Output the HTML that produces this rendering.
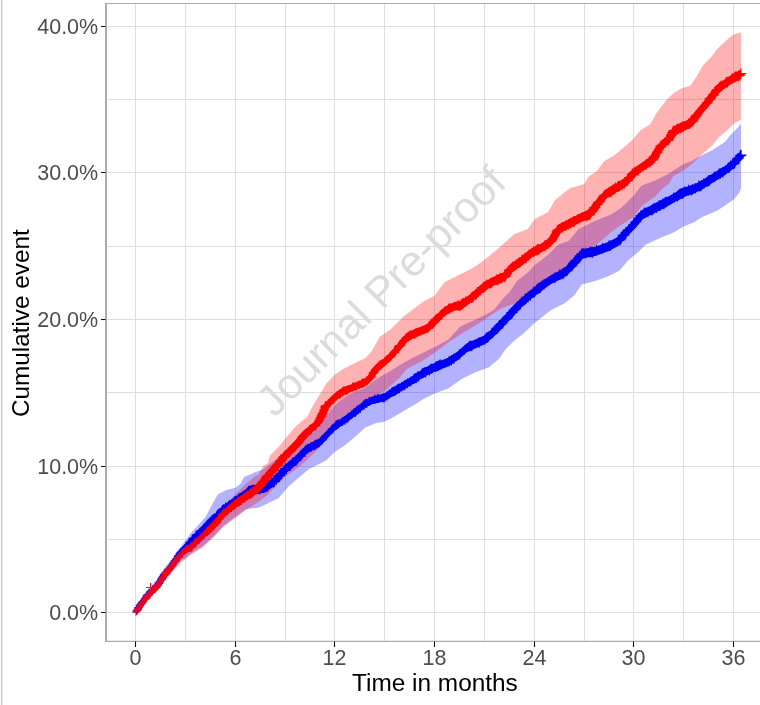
<!DOCTYPE html>
<html lang="en"><head><meta charset="utf-8"><title>Cumulative event</title>
<style>html,body{margin:0;padding:0;background:#fff}body{width:760px;height:705px;overflow:hidden}</style></head>
<body>
<svg width="760" height="705" viewBox="0 0 760 705" style="display:block;font-family:'Liberation Sans',sans-serif">
<rect width="760" height="705" fill="#fff"/>
<rect x="1" y="0" width="1.3" height="705" fill="#c4c4c4"/>
<path d="M135.5,4V641M185.5,4V641M235.5,4V641M285.5,4V641M334.5,4V641M384.5,4V641M434.5,4V641M484.5,4V641M534.5,4V641M584.5,4V641M633.5,4V641M683.5,4V641M733.5,4V641M107,612.5H760M107,539.5H760M107,466.5H760M107,392.5H760M107,319.5H760M107,246.5H760M107,172.5H760M107,99.5H760M107,26.5H760" stroke="#dedede" stroke-width="1" fill="none"/>
<text transform="translate(274.5,418.5) rotate(-45)" font-size="42.8" fill="#dcdcdc" x="0" y="0">Journal Pre-proof</text>
<polygon points="135.5,612.0 141.0,600.0 146.5,591.0 152.0,585.0 158.0,578.0 163.5,569.0 169.9,561.5 175.6,553.5 181.3,546.0 185.7,540.0 191.4,532.6 197.0,526.4 202.7,520.0 205.6,516.7 208.4,511.5 212.0,504.7 217.7,494.5 226.2,490.0 235.5,487.7 240.4,483.7 244.0,477.0 249.7,474.7 255.4,471.9 262.0,470.0 275.0,460.0 285.0,452.0 300.0,440.0 312.0,431.0 324.5,418.0 334.5,405.6 342.7,398.8 351.8,393.1 365.4,387.4 374.5,380.6 379.0,377.5 384.2,374.5 392.7,369.5 399.5,365.2 407.4,360.6 421.0,353.8 434.7,347.0 448.3,339.6 460.0,326.7 484.2,315.4 494.0,309.7 503.1,298.4 509.9,291.6 516.7,281.3 528.1,272.3 534.8,264.9 548.1,254.7 558.3,244.5 568.5,241.1 578.7,229.1 594.0,221.3 611.1,214.5 621.3,207.7 633.5,195.7 641.7,185.5 655.3,180.4 668.9,173.6 683.5,164.0 692.1,160.8 699.9,156.2 712.4,149.9 724.9,142.1 729.6,135.9 737.4,128.1 741.0,123.4 741.1,188.3 739.4,192.6 733.8,199.6 725.2,205.3 716.7,211.0 702.6,216.7 694.0,222.3 683.4,226.6 674.2,232.3 660.0,237.9 645.1,245.1 638.3,251.9 628.1,260.4 619.6,270.6 608.9,276.0 595.3,281.1 581.7,284.5 574.9,294.7 564.7,303.2 551.1,310.0 534.3,323.3 523.5,333.5 514.5,340.4 505.4,349.4 499.1,358.7 488.9,367.2 475.3,372.3 461.7,379.1 448.1,388.5 434.5,393.5 424.3,398.5 414.0,405.0 399.4,413.5 393.8,417.0 384.7,421.5 375.5,423.2 365.3,427.5 355.1,436.8 344.9,445.3 334.7,452.0 326.0,460.6 309.0,469.0 299.0,477.4 289.0,486.0 278.7,497.9 265.0,504.7 258.5,507.7 246.1,509.0 235.5,516.8 223.4,525.8 214.1,535.8 202.7,546.3 191.4,553.3 185.5,558.0 181.3,560.5 175.6,567.0 169.9,574.0 164.2,580.5 158.6,588.0 152.9,594.0 147.2,599.5 141.5,606.5 135.5,612.5" fill="#0000ff" fill-opacity="0.3"/>
<polygon points="135.5,612.0 141.5,601.0 147.2,592.0 152.9,586.0 158.6,579.5 164.2,570.5 169.9,563.5 175.6,555.5 181.3,548.0 191.4,540.0 202.7,529.0 214.1,518.0 223.4,506.5 235.5,494.0 246.1,483.7 255.4,476.0 258.5,474.8 263.1,465.7 267.6,463.4 270.0,455.5 280.2,445.3 285.3,438.5 295.5,426.6 307.4,416.4 312.5,406.2 320.0,394.0 326.8,382.9 334.5,375.0 342.7,369.3 354.0,363.6 365.4,357.9 371.0,352.3 380.0,336.6 390.2,329.8 403.8,316.2 417.4,306.0 424.3,300.9 434.5,295.7 444.7,282.1 458.3,275.3 471.9,268.5 482.1,261.7 497.0,249.6 514.0,234.3 527.7,229.1 534.8,218.9 548.1,212.1 554.9,200.2 565.1,191.7 570.0,188.2 584.2,183.9 588.4,176.8 597.0,171.1 604.0,161.2 614.0,155.5 622.5,148.4 631.0,141.3 640.9,130.0 650.0,124.5 656.2,113.6 665.6,101.1 673.4,93.3 681.2,88.6 690.6,85.5 696.8,76.2 703.0,65.2 710.8,57.4 717.1,48.9 724.9,41.8 732.7,34.8 741.0,32.5 741.0,119.5 734.2,123.4 728.0,129.6 718.6,137.4 712.4,145.2 699.9,156.2 692.1,164.0 683.5,170.2 673.4,176.0 668.9,183.8 662.1,188.9 655.3,196.6 641.7,206.0 633.5,217.0 621.3,224.7 611.1,232.0 595.3,246.0 581.7,250.0 574.9,259.0 564.7,269.0 551.1,276.0 534.6,288.0 528.1,293.0 516.7,303.0 509.9,305.2 503.1,307.4 494.0,313.1 484.2,319.9 460.0,334.7 448.3,342.5 434.7,352.7 421.0,361.8 407.4,368.6 399.5,377.7 392.7,384.0 384.2,391.0 372.0,400.0 365.3,405.0 355.0,413.0 345.0,421.0 334.7,428.0 320.0,447.0 309.0,458.0 299.0,467.0 292.0,472.0 282.0,479.0 267.6,495.0 258.5,502.0 246.1,509.8 235.5,518.0 223.4,527.0 214.1,537.0 202.7,547.5 191.4,554.5 185.5,559.5 181.3,562.0 175.6,568.0 169.9,575.0 164.2,581.5 158.6,589.0 152.9,595.0 147.2,600.0 141.5,607.0 135.5,612.5" fill="#ff0000" fill-opacity="0.3"/>
<polygon points="135.8,609.1 141.2,600.2 146.9,592.4 152.6,586.9 158.3,580.6 163.9,571.6 169.5,564.7 175.1,556.9 180.7,549.3 185.0,544.7 191.4,537.0 202.7,525.3 214.1,514.6 223.4,505.3 235.5,496.6 246.1,489.0 252.0,485.1 260.0,484.2 265.4,483.2 274.4,476.4 285.3,464.6 295.5,456.2 307.4,444.5 319.4,438.6 327.9,429.5 334.7,422.7 344.9,416.0 355.1,408.5 365.3,399.9 372.1,396.4 384.7,393.2 393.8,387.5 399.4,384.0 414.0,375.0 424.3,368.1 434.5,362.9 448.1,357.8 458.3,351.0 466.8,343.3 484.2,335.4 494.0,327.4 503.1,317.2 509.9,310.3 516.7,302.4 528.1,292.2 534.6,286.8 539.4,283.1 551.1,274.9 564.7,268.1 574.9,257.8 581.7,249.3 595.3,246.7 608.9,241.7 619.1,236.2 623.0,231.2 633.5,220.5 641.7,210.2 655.3,203.2 668.9,196.3 683.4,187.7 694.0,184.4 702.6,179.9 716.7,171.1 725.2,165.9 733.8,158.9 741.1,150.4 741.1,159.6 733.8,168.1 725.2,175.1 716.7,180.3 702.6,189.1 694.0,193.6 683.4,196.9 668.9,205.5 655.3,212.4 641.7,219.4 633.5,229.7 623.0,240.4 619.1,245.4 608.9,250.9 595.3,255.9 581.7,258.5 574.9,267.0 564.7,277.3 551.1,284.1 539.4,292.3 534.6,296.0 528.1,301.4 516.7,311.6 509.9,319.5 503.1,326.2 494.0,336.4 484.2,344.4 466.8,352.3 458.3,359.8 448.1,366.6 434.5,371.7 424.3,376.7 414.0,383.4 399.4,392.2 393.8,395.5 384.7,401.2 372.1,404.2 365.3,407.5 355.1,415.9 344.9,423.6 334.7,430.7 327.9,437.5 319.4,447.0 307.4,453.1 295.5,465.2 285.3,473.8 274.4,485.8 265.4,492.6 260.0,493.4 252.0,493.9 246.1,497.6 235.5,504.8 223.4,513.1 214.1,522.2 202.7,532.5 191.4,544.2 185.0,551.9 180.7,556.3 175.1,563.9 169.5,571.7 163.9,578.6 158.3,587.6 152.6,593.9 146.9,599.2 141.2,607.0 135.8,615.9" fill="#0000f5"/><polygon points="132.4,612.5 137.8,603.6 143.5,595.8 149.1,590.4 154.8,584.1 160.4,575.1 166.0,568.2 171.6,560.4 177.2,552.8 181.4,548.3 187.8,540.6 199.1,528.9 210.3,518.4 219.5,509.2 231.4,500.7 241.8,493.3 247.6,489.5 255.4,488.8 260.7,487.9 269.7,481.1 280.7,469.2 291.0,460.7 303.1,448.8 315.2,442.8 323.9,433.5 330.7,426.7 341.1,419.8 351.4,412.2 361.5,403.7 368.2,400.3 380.7,397.2 389.8,391.5 395.3,388.1 409.8,379.2 420.0,372.4 430.1,367.3 443.7,362.2 453.9,355.4 462.3,347.8 479.7,339.9 489.5,331.9 498.6,321.7 505.3,314.9 512.1,307.0 523.5,296.8 530.0,291.4 534.8,287.7 546.5,279.5 560.1,272.7 570.3,262.4 577.1,253.9 590.7,251.3 604.3,246.3 614.5,240.8 618.4,235.8 628.9,225.1 637.1,214.8 650.7,207.8 664.3,200.9 678.8,192.3 689.4,189.0 698.0,184.5 712.1,175.7 720.6,170.5 729.2,163.5 736.5,155.0 745.7,155.0 738.4,163.5 729.8,170.5 721.3,175.7 707.2,184.5 698.6,189.0 688.0,192.3 673.5,200.9 659.9,207.8 646.3,214.8 638.1,225.1 627.6,235.8 623.7,240.8 613.5,246.3 599.9,251.3 586.3,253.9 579.5,262.4 569.3,272.7 555.7,279.5 544.0,287.7 539.2,291.4 532.7,296.8 521.3,307.0 514.5,314.9 507.6,321.7 498.5,331.9 488.7,339.9 471.3,347.8 462.7,355.4 452.5,362.2 438.9,367.3 428.6,372.4 418.2,379.2 403.5,388.1 397.8,391.5 388.7,397.2 376.0,400.3 369.1,403.7 358.8,412.2 348.7,419.8 338.7,426.7 331.9,433.5 323.6,442.8 311.7,448.8 300.0,460.7 289.9,469.2 279.1,481.1 270.1,487.9 264.6,488.8 256.4,489.5 250.4,493.3 239.6,500.7 227.3,509.2 217.9,518.4 206.3,528.9 195.0,540.6 188.6,548.3 184.2,552.8 178.6,560.4 173.0,568.2 167.4,575.1 161.8,584.1 156.1,590.4 150.3,595.8 144.6,603.6 139.2,612.5" fill="#0000f5"/>
<path d="M132.4,611.0h8.2M136.5,606.9v8.2M133.7,609.2h8.2M137.8,605.1v8.2M134.4,607.5h8.2M138.5,603.4v8.2M135.7,605.7h8.2M139.8,601.6v8.2M136.4,604.2h8.2M140.5,600.1v8.2M137.1,604.0h8.2M141.2,599.9v8.2M137.9,602.2h8.2M142.0,598.0v8.2M141.1,598.6h8.3M145.3,594.5v8.3M142.0,597.3h8.3M146.1,593.2v8.3M142.8,595.4h8.3M146.9,591.2v8.3M143.7,594.7h8.3M147.8,590.5v8.3M145.6,593.2h8.3M149.8,589.1v8.3M147.5,591.4h8.3M151.7,587.2v8.3M148.4,589.9h8.3M152.6,585.7v8.3M149.4,589.6h8.3M153.6,585.4v8.3M150.3,588.1h8.3M154.5,583.9v8.3M153.2,585.5h8.3M157.4,581.3v8.3M154.8,583.1h8.3M159.0,578.9v8.3M157.6,579.1h8.4M161.8,574.9v8.4M158.3,577.3h8.4M162.5,573.1v8.4M159.7,575.1h8.4M163.9,570.9v8.4M160.6,574.2h8.4M164.8,570.0v8.4M164.4,569.6h8.4M168.6,565.4v8.4M170.9,560.6h8.4M175.1,556.4v8.4M174.1,555.9h8.5M178.3,551.7v8.5M175.7,553.8h8.5M179.9,549.6v8.5M176.5,552.3h8.5M180.7,548.1v8.5M177.5,552.0h8.5M181.8,547.8v8.5M178.6,550.2h8.5M182.8,546.0v8.5M179.7,549.9h8.5M183.9,545.6v8.5M180.7,548.2h8.5M185.0,544.0v8.5M185.3,542.7h8.5M189.6,538.4v8.5M186.2,542.2h8.5M190.5,537.9v8.5M188.1,539.2h8.6M192.3,535.0v8.6M189.0,538.3h8.6M193.3,534.1v8.6M191.8,535.1h8.6M196.1,530.8v8.6M192.8,534.6h8.6M197.1,530.3v8.6M199.4,528.4h8.7M203.7,524.1v8.7M203.5,524.0h8.8M207.9,519.6v8.8M204.5,523.3h8.9M208.9,518.9v8.9M205.5,521.7h8.9M210.0,517.3v8.9M206.5,520.9h8.9M211.0,516.4v8.9M207.6,519.8h8.9M212.0,515.3v8.9M208.6,518.9h9.0M213.1,514.4v9.0M209.6,518.2h9.0M214.1,513.7v9.0M210.5,517.9h9.0M215.0,513.4v9.0M212.3,515.3h9.1M216.9,510.8v9.1M213.3,514.6h9.1M217.8,510.0v9.1M214.2,514.2h9.1M218.8,509.7v9.1M217.8,509.6h9.2M222.5,505.0v9.2M218.8,508.9h9.3M223.4,504.3v9.3M220.9,507.1h9.3M225.6,502.4v9.3M224.2,505.4h9.4M228.9,500.7v9.4M225.3,504.6h9.5M230.0,499.9v9.5M229.6,501.3h9.6M234.4,496.5v9.6M230.7,501.0h9.6M235.5,496.2v9.6M234.2,497.9h9.8M239.0,493.0v9.8M242.2,492.6h10.1M247.3,487.5v10.1M243.4,491.2h10.1M248.5,486.1v10.1M244.5,490.8h10.2M249.6,485.7v10.2M245.7,490.5h10.2M250.8,485.4v10.2M248.2,489.9h10.3M253.3,484.7v10.3M252.1,488.7h10.5M257.3,483.5v10.5M253.4,488.6h10.5M258.7,483.3v10.5M254.7,488.9h10.6M260.0,483.6v10.6M262.2,486.4h10.9M267.6,480.9v10.9M267.8,482.3h10.9M273.3,476.8v10.9M269.0,481.5h10.9M274.4,476.0v10.9M270.8,479.0h10.8M276.2,473.6v10.8M273.6,475.7h10.8M278.9,470.3v10.8M274.5,475.6h10.7M279.9,470.3v10.7M276.3,473.6h10.7M281.7,468.2v10.7M279.1,470.3h10.6M284.4,464.9v10.6M280.0,468.6h10.6M285.3,463.3v10.6M285.2,465.4h10.5M290.4,460.2v10.5M287.2,463.0h10.4M292.4,457.8v10.4M288.3,462.1h10.4M293.5,456.9v10.4M290.3,460.6h10.3M295.5,455.4v10.3M291.3,460.2h10.3M296.5,455.1v10.3M292.3,458.7h10.3M297.5,453.5v10.3M295.4,456.2h10.2M300.5,451.1v10.2M299.4,451.7h10.1M304.4,446.7v10.1M300.4,450.2h10.1M305.4,445.2v10.1M302.4,448.8h10.0M307.4,443.8v10.0M306.0,447.0h9.9M311.0,442.1v9.9M309.7,445.3h9.8M314.6,440.4v9.8M310.9,444.3h9.8M315.8,439.4v9.8M317.4,439.8h9.6M322.2,435.0v9.6M328.1,428.7h9.4M332.8,424.0v9.4M331.2,425.5h9.3M335.8,420.8v9.3M332.3,424.7h9.3M337.0,420.0v9.3M333.5,423.9h9.2M338.1,419.3v9.2M338.1,421.6h9.1M342.6,417.0v9.1M340.4,420.3h9.1M344.9,415.7v9.1M342.7,418.7h9.0M347.2,414.2v9.0M343.8,417.3h9.0M348.3,412.8v9.0M347.3,414.7h8.9M351.7,410.2v8.9M349.6,412.7h8.8M354.0,408.3v8.8M350.7,412.5h8.8M355.1,408.1v8.8M351.7,411.4h8.8M356.1,407.0v8.8M352.7,409.9h8.8M357.1,405.5v8.8M353.7,409.8h8.9M358.2,405.4v8.9M355.8,408.5h8.9M360.2,404.1v8.9M358.8,405.1h8.9M363.3,400.6v8.9M359.8,404.9h9.0M364.3,400.4v9.0M360.8,403.3h9.0M365.3,398.8v9.0M362.2,403.5h9.0M366.7,399.0v9.0M364.9,401.2h9.1M369.4,396.7v9.1M370.3,399.1h9.2M374.9,394.5v9.2M373.1,398.4h9.2M377.7,393.8v9.2M378.6,398.0h9.3M383.3,393.3v9.3M380.0,397.6h9.3M384.7,393.0v9.3M382.3,395.8h9.4M387.0,391.2v9.4M384.5,393.9h9.4M389.2,389.2v9.4M386.8,392.5h9.4M391.5,387.7v9.4M387.9,391.7h9.5M392.7,386.9v9.5M389.1,391.3h9.5M393.8,386.5v9.5M390.2,391.1h9.5M394.9,386.4v9.5M391.3,390.1h9.5M396.0,385.4v9.5M392.4,389.3h9.5M397.2,384.5v9.5M393.5,388.5h9.6M398.3,383.7v9.6M394.6,388.4h9.6M399.4,383.6v9.6M396.8,386.7h9.6M401.6,381.9v9.6M399.1,385.7h9.7M403.9,380.9v9.7M400.2,384.7h9.7M405.0,379.8v9.7M402.4,383.3h9.7M407.3,378.5v9.7M405.7,381.7h9.8M410.6,376.8v9.8M409.1,379.0h9.8M414.0,374.1v9.8M410.2,378.0h9.9M415.1,373.1v9.9M411.3,378.0h9.9M416.3,373.0v9.9M412.5,376.5h9.9M417.4,371.6v9.9M413.6,376.6h9.9M418.6,371.6v9.9M417.0,373.6h10.0M422.0,368.6v10.0M418.2,373.1h10.0M423.2,368.1v10.0M419.3,372.3h10.0M424.3,367.3v10.0M420.5,372.3h10.1M425.6,367.3v10.1M424.3,370.4h10.1M429.4,365.3v10.1M425.6,369.0h10.1M430.7,364.0v10.1M426.9,368.4h10.2M431.9,363.4v10.2M430.6,366.8h10.2M435.7,361.7v10.2M431.9,366.1h10.2M437.0,361.0v10.2M433.1,365.8h10.2M438.2,360.7v10.2M434.3,364.9h10.2M439.4,359.8v10.2M435.6,364.7h10.2M440.7,359.5v10.2M444.1,361.2h10.3M449.2,356.1v10.3M446.4,360.2h10.3M451.5,355.1v10.3M448.6,358.8h10.3M453.8,353.7v10.3M454.2,354.5h10.3M459.4,349.3v10.3M464.1,346.1h10.3M469.3,340.9v10.3M465.4,345.9h10.3M470.5,340.8v10.3M466.6,345.9h10.4M471.8,340.8v10.4M474.0,342.5h10.4M479.2,337.3v10.4M480.1,339.3h10.4M485.3,334.1v10.4M481.2,337.6h10.4M486.4,332.4v10.4M482.3,337.5h10.4M487.5,332.3v10.4M483.3,336.6h10.4M488.6,331.4v10.4M486.6,333.7h10.4M491.8,328.4v10.4M491.5,328.4h10.5M496.7,323.2v10.5M492.4,328.1h10.5M497.6,322.9v10.5M493.3,326.9h10.5M498.6,321.7v10.5M494.2,325.3h10.5M499.5,320.0v10.5M495.1,325.0h10.5M500.4,319.7v10.5M497.9,321.7h10.5M503.1,316.5v10.5M500.8,319.3h10.5M506.0,314.0v10.5M501.7,318.4h10.5M507.0,313.1v10.5M503.7,315.8h10.5M508.9,310.6v10.5M506.3,312.6h10.5M511.6,307.4v10.5M507.2,312.5h10.5M512.5,307.2v10.5M508.0,311.0h10.5M513.3,305.8v10.5M508.9,310.0h10.5M514.1,304.7v10.5M510.6,308.4h10.5M515.9,303.1v10.5M514.5,304.7h10.5M519.8,299.4v10.5M516.6,301.8h10.6M521.9,296.5v10.6M519.7,299.2h10.6M525.0,293.9v10.6M520.7,298.4h10.6M526.0,293.1v10.6M522.8,297.1h10.6M528.1,291.8v10.6M525.0,295.5h10.6M530.3,290.2v10.6M528.2,292.1h10.6M533.5,286.8v10.6M529.3,292.0h10.6M534.6,286.7v10.6M531.7,289.5h10.6M537.0,284.2v10.6M532.9,288.1h10.6M538.2,282.8v10.6M534.1,288.1h10.6M539.4,282.8v10.6M535.3,287.4h10.6M540.6,282.1v10.6M536.4,285.8h10.6M541.7,280.5v10.6M538.8,284.3h10.6M544.1,279.0v10.6M549.5,277.9h10.6M554.8,272.6v10.6M554.5,274.6h10.6M559.8,269.3v10.6M556.9,273.9h10.6M562.2,268.6v10.6M558.2,273.1h10.6M563.5,267.8v10.6M561.3,271.0h10.6M566.6,265.7v10.6M562.2,270.0h10.6M567.5,264.7v10.6M563.1,268.6h10.6M568.4,263.3v10.6M564.0,267.7h10.6M569.3,262.4v10.6M566.8,265.7h10.6M572.1,260.4v10.6M568.7,262.9h10.6M574.0,257.6v10.6M569.6,261.9h10.6M574.9,256.6v10.6M570.5,260.8h10.6M575.8,255.5v10.6M571.3,260.0h10.6M576.6,254.7v10.6M574.7,255.9h10.6M580.0,250.6v10.6M576.4,253.7h10.6M581.7,248.4v10.6M577.8,253.4h10.6M583.1,248.1v10.6M580.5,253.1h10.6M585.8,247.8v10.6M584.6,252.1h10.6M589.9,246.8v10.6M585.9,252.0h10.6M591.2,246.7v10.6M587.3,252.4h10.6M592.6,247.1v10.6M591.2,250.3h10.6M596.5,245.0v10.6M597.4,248.4h10.6M602.7,243.1v10.6M603.6,245.8h10.6M608.9,240.5v10.6M604.9,245.6h10.6M610.2,240.3v10.6M614.8,239.9h10.6M620.1,234.6v10.6M615.8,238.8h10.6M621.0,233.5v10.6M617.7,235.4h10.6M623.0,230.1v10.6M618.7,235.0h10.6M624.0,229.7v10.6M620.6,232.4h10.6M625.9,227.1v10.6M623.4,229.6h10.6M628.7,224.3v10.6M625.3,227.8h10.6M630.6,222.5v10.6M630.7,221.7h10.6M636.0,216.4v10.6M633.1,218.3h10.6M638.4,213.0v10.6M635.6,215.5h10.6M640.9,210.2v10.6M638.9,213.0h10.6M644.2,207.7v10.6M640.1,212.8h10.6M645.4,207.5v10.6M642.6,212.0h10.6M647.9,206.7v10.6M646.3,210.3h10.6M651.6,205.0v10.6M647.5,209.5h10.6M652.8,204.2v10.6M648.8,208.1h10.6M654.1,202.8v10.6M651.2,207.7h10.6M656.5,202.4v10.6M653.7,205.6h10.6M659.0,200.3v10.6M654.9,205.5h10.6M660.2,200.2v10.6M657.4,203.9h10.6M662.7,198.6v10.6M658.7,204.0h10.6M664.0,198.7v10.6M659.9,202.2h10.6M665.2,196.9v10.6M661.1,202.0h10.6M666.4,196.7v10.6M668.4,197.7h10.6M673.7,192.4v10.6M672.1,196.1h10.6M677.4,190.8v10.6M673.3,195.0h10.6M678.6,189.7v10.6M674.5,194.1h10.6M679.8,188.8v10.6M675.7,193.5h10.6M681.0,188.2v10.6M676.9,193.6h10.6M682.2,188.3v10.6M678.1,192.9h10.6M683.4,187.6v10.6M679.4,191.7h10.6M684.7,186.4v10.6M683.4,190.1h10.6M688.7,184.8v10.6M686.1,190.3h10.6M691.4,185.0v10.6M687.4,189.2h10.6M692.7,183.9v10.6M689.9,188.3h10.6M695.2,183.0v10.6M693.6,185.9h10.6M698.9,180.6v10.6M694.8,186.3h10.6M700.1,181.0v10.6M696.1,185.4h10.6M701.4,180.1v10.6M698.5,183.5h10.6M703.8,178.2v10.6M702.0,181.8h10.6M707.3,176.5v10.6M703.2,180.6h10.6M708.5,175.3v10.6M704.4,180.4h10.6M709.7,175.1v10.6M709.1,176.8h10.6M714.4,171.5v10.6M713.8,173.9h10.6M719.1,168.6v10.6M715.0,173.5h10.6M720.3,168.2v10.6M717.5,172.3h10.6M722.8,167.0v10.6M723.1,167.7h10.6M728.4,162.4v10.6M724.2,167.3h10.6M729.5,162.0v10.6M725.3,165.8h10.6M730.6,160.5v10.6M727.4,163.9h10.6M732.7,158.6v10.6M728.5,163.6h10.6M733.8,158.3v10.6M729.4,163.0h10.6M734.7,157.7v10.6M732.2,158.8h10.6M737.5,153.5v10.6M733.1,158.2h10.6M738.4,152.9v10.6M734.9,155.7h10.6M740.2,150.4v10.6M735.8,155.1h10.6M741.1,149.8v10.6" stroke="#0000f5" stroke-width="1.1" fill="none"/>
<polygon points="202.7,532.4 214.1,521.4 223.4,509.9 235.5,499.8 246.1,492.2 251.0,488.8 258.5,483.3 265.4,474.1 274.4,463.9 285.3,451.0 295.5,440.9 307.4,427.5 317.7,419.1 322.8,409.0 325.7,402.2 329.6,398.8 334.5,393.2 342.7,387.6 354.0,383.3 365.4,378.6 371.0,373.0 376.7,363.8 384.7,358.0 390.2,353.1 400.4,341.1 407.2,332.5 417.4,328.1 427.7,323.9 434.5,317.0 444.7,306.8 454.9,301.7 460.0,301.3 471.3,293.4 484.2,282.1 494.0,276.4 505.4,271.8 510.6,263.8 520.9,257.0 531.1,248.5 541.3,243.4 551.5,236.6 558.3,224.6 568.5,219.5 581.3,212.8 589.9,209.5 598.4,198.1 605.5,189.6 615.4,183.9 626.7,176.8 633.8,168.3 643.8,161.2 652.3,155.6 660.8,141.4 669.3,134.3 673.4,126.2 685.9,120.7 692.2,117.5 695.5,112.2 699.0,107.7 708.1,97.0 712.4,91.2 719.4,82.7 722.5,80.7 731.1,74.9 741.0,69.5 741.0,78.7 731.1,84.1 722.5,89.9 719.4,91.9 712.4,100.4 708.1,106.2 699.0,116.9 695.5,121.4 692.2,126.7 685.9,129.9 673.4,135.4 669.3,143.5 660.8,150.6 652.3,164.8 643.8,170.4 633.8,177.5 626.7,186.0 615.4,193.1 605.5,198.8 598.4,207.3 589.9,218.7 581.3,222.0 568.5,228.7 558.3,233.8 551.5,245.8 541.3,252.6 531.1,257.7 520.9,266.2 510.6,273.0 505.4,280.8 494.0,285.4 484.2,291.1 471.3,302.4 460.0,310.3 454.9,310.5 444.7,315.6 434.5,325.8 427.7,332.5 417.4,336.7 407.2,340.9 400.4,349.3 390.2,361.1 384.7,366.0 376.7,371.6 371.0,380.6 365.4,386.2 354.0,390.7 342.7,395.4 334.5,401.2 329.6,406.8 325.7,410.4 322.8,417.2 317.7,427.5 307.4,436.1 295.5,449.9 285.3,460.2 274.4,473.3 265.4,483.5 258.5,492.5 251.0,497.6 246.1,500.8 235.5,508.0 223.4,517.7 214.1,529.0 202.7,539.6" fill="#ff0000"/><polygon points="199.1,536.0 210.3,525.2 219.5,513.8 231.4,503.9 241.8,496.5 246.6,493.2 253.9,487.9 260.7,478.8 269.7,468.6 280.7,455.6 291.0,445.4 303.1,431.8 313.5,423.3 318.7,413.1 321.6,406.3 325.6,402.8 330.5,397.2 338.8,391.5 350.3,387.0 361.6,382.4 367.2,376.8 372.8,367.7 380.7,362.0 386.2,357.1 396.3,345.2 403.0,336.7 413.1,332.4 423.4,328.2 430.1,321.4 440.3,311.2 450.5,306.1 455.5,305.8 466.8,297.9 479.7,286.6 489.5,280.9 500.9,276.3 506.0,268.4 516.3,261.6 526.5,253.1 536.7,248.0 546.9,241.2 553.7,229.2 563.9,224.1 576.7,217.4 585.3,214.1 593.8,202.7 600.9,194.2 610.8,188.5 622.1,181.4 629.2,172.9 639.2,165.8 647.7,160.2 656.2,146.0 664.7,138.9 668.8,130.8 681.3,125.3 687.6,122.1 690.9,116.8 694.4,112.3 703.5,101.6 707.8,95.8 714.8,87.3 717.9,85.3 726.5,79.5 736.4,74.1 745.6,74.1 735.7,79.5 727.1,85.3 724.0,87.3 717.0,95.8 712.7,101.6 703.6,112.3 700.1,116.8 696.8,122.1 690.5,125.3 678.0,130.8 673.9,138.9 665.4,146.0 656.9,160.2 648.4,165.8 638.4,172.9 631.3,181.4 620.0,188.5 610.1,194.2 603.0,202.7 594.5,214.1 585.9,217.4 573.1,224.1 562.9,229.2 556.1,241.2 545.9,248.0 535.7,253.1 525.5,261.6 515.2,268.4 509.9,276.3 498.5,280.9 488.7,286.6 475.8,297.9 464.5,305.8 459.3,306.1 449.1,311.2 438.9,321.4 432.0,328.2 421.7,332.4 411.4,336.7 404.5,345.2 394.2,357.1 388.7,362.0 380.6,367.7 374.8,376.8 369.2,382.4 357.7,387.0 346.6,391.5 338.5,397.2 333.6,402.8 329.8,406.3 326.9,413.1 321.9,423.3 311.7,431.8 300.0,445.4 289.9,455.6 279.1,468.6 270.1,478.8 263.1,487.9 255.4,493.2 250.4,496.5 239.6,503.9 227.3,513.8 217.9,525.2 206.3,536.0" fill="#ff0000"/>
<polygon points="135.8,609.1 141.5,600.6 147.2,592.8 152.9,587.3 158.6,581.0 164.2,572.0 169.9,565.2 175.6,557.5 181.3,550.2 185.5,546.6 191.4,543.2 202.7,532.4 202.7,539.6 191.4,550.4 185.5,553.8 181.3,557.2 175.6,564.5 169.9,572.2 164.2,579.0 158.6,588.0 152.9,594.3 147.2,599.6 141.5,607.4 135.8,615.9" fill="#dc062e"/><polygon points="132.4,612.5 138.1,604.0 143.8,596.2 149.4,590.8 155.1,584.5 160.7,575.5 166.4,568.7 172.1,561.0 177.8,553.7 181.9,550.2 187.8,546.8 199.1,536.0 206.3,536.0 195.0,546.8 189.1,550.2 184.8,553.7 179.1,561.0 173.4,568.7 167.7,575.5 162.1,584.5 156.4,590.8 150.6,596.2 144.9,604.0 139.2,612.5" fill="#dc062e"/>
<path d="M203.0,531.9h8.8M207.4,527.5v8.8M204.0,530.7h8.8M208.4,526.3v8.8M204.9,530.0h8.9M209.3,525.6v8.9M205.9,528.5h8.9M210.3,524.0v8.9M206.8,527.5h8.9M211.2,523.0v8.9M209.6,525.1h9.0M214.1,520.6v9.0M212.1,522.5h9.1M216.6,517.9v9.1M214.6,519.0h9.1M219.2,514.4v9.1M217.9,514.6h9.2M222.6,510.0v9.2M218.8,513.4h9.3M223.4,508.8v9.3M222.7,510.9h9.4M227.4,506.2v9.4M223.7,509.4h9.4M228.4,504.7v9.4M226.7,507.3h9.5M231.5,502.6v9.5M228.7,505.4h9.6M233.5,500.6v9.6M229.7,504.4h9.6M234.5,499.6v9.6M230.7,504.0h9.6M235.5,499.2v9.6M233.0,501.7h9.7M237.9,496.8v9.7M234.2,501.6h9.8M239.0,496.8v9.8M235.3,500.4h9.8M240.2,495.5v9.8M236.5,500.1h9.9M241.4,495.2v9.9M238.8,497.7h9.9M243.7,492.7v9.9M239.9,497.4h10.0M244.9,492.4v10.0M242.3,495.3h10.1M247.3,490.2v10.1M244.7,493.8h10.2M249.8,488.7v10.2M245.9,493.7h10.2M251.0,488.6v10.2M246.9,492.5h10.3M252.1,487.4v10.3M248.0,491.6h10.3M253.1,486.4v10.3M251.1,489.1h10.5M256.4,483.8v10.5M253.2,487.3h10.5M258.5,482.0v10.5M254.9,486.0h10.6M260.2,480.7v10.6M255.8,484.9h10.6M261.1,479.6v10.6M257.5,481.6h10.7M262.8,476.3v10.7M260.9,477.9h10.9M266.3,472.5v10.9M261.8,476.8h10.9M267.2,471.3v10.9M262.6,475.5h10.9M268.1,470.0v10.9M265.3,472.7h11.0M270.8,467.2v11.0M268.0,469.2h10.9M273.5,463.7v10.9M271.5,466.1h10.8M276.9,460.7v10.8M272.4,465.1h10.8M277.8,459.7v10.8M274.9,461.9h10.7M280.3,456.6v10.7M275.8,460.5h10.7M281.1,455.1v10.7M278.3,457.3h10.6M283.6,451.9v10.6M279.2,456.6h10.6M284.5,451.3v10.6M280.0,455.1h10.6M285.3,449.9v10.6M280.9,454.9h10.6M286.2,449.7v10.6M282.8,452.9h10.5M288.1,447.6v10.5M284.7,451.4h10.5M289.9,446.1v10.5M285.6,450.2h10.4M290.9,444.9v10.4M288.5,447.2h10.4M293.6,442.0v10.4M290.3,445.6h10.3M295.5,440.4v10.3M291.3,444.3h10.3M296.4,439.1v10.3M292.2,443.5h10.3M297.3,438.3v10.3M294.1,441.5h10.2M299.2,436.4v10.2M296.8,438.0h10.2M301.9,433.0v10.2M297.8,436.6h10.1M302.8,431.5v10.1M298.7,435.5h10.1M303.7,430.4v10.1M299.6,435.0h10.1M304.7,429.9v10.1M300.5,434.1h10.1M305.6,429.0v10.1M301.5,433.1h10.0M306.5,428.1v10.0M304.5,430.1h10.0M309.5,425.1v10.0M305.5,429.8h9.9M310.5,424.8v9.9M306.6,428.8h9.9M311.5,423.9v9.9M310.7,425.6h9.8M315.6,420.7v9.8M314.1,421.1h9.7M319.0,416.2v9.7M315.4,418.0h9.7M320.2,413.2v9.7M316.7,416.1h9.7M321.5,411.3v9.7M317.3,414.8h9.6M322.2,409.9v9.6M318.0,413.1h9.6M322.8,408.3v9.6M319.2,410.1h9.6M324.0,405.3v9.6M320.3,407.1h9.6M325.1,402.3v9.6M320.9,405.9h9.5M325.7,401.1v9.5M324.9,403.1h9.4M329.6,398.4v9.4M325.9,401.7h9.4M330.6,397.0v9.4M327.9,399.9h9.4M332.5,395.2v9.4M332.2,396.2h9.3M336.8,391.5v9.3M334.6,394.3h9.2M339.2,389.7v9.2M335.8,393.7h9.2M340.4,389.1v9.2M338.1,391.8h9.1M342.7,387.3v9.1M339.4,390.6h9.1M344.0,386.1v9.1M342.0,390.4h9.0M346.5,385.9v9.0M343.2,389.7h9.0M347.7,385.2v9.0M348.3,386.9h8.9M352.7,382.5v8.9M349.6,386.6h8.8M354.0,382.2v8.8M352.1,386.0h8.8M356.5,381.6v8.8M354.6,384.6h8.9M359.1,380.2v8.9M357.1,383.3h8.9M361.6,378.9v8.9M358.4,382.9h8.9M362.9,378.5v8.9M359.7,382.6h9.0M364.1,378.1v9.0M362.8,380.7h9.0M367.3,376.2v9.0M364.6,379.2h9.1M369.1,374.7v9.1M365.5,377.3h9.1M370.1,372.8v9.1M366.5,377.0h9.1M371.0,372.4v9.1M368.6,373.1h9.1M373.1,368.5v9.1M369.3,372.4h9.1M373.9,367.9v9.1M370.7,370.1h9.2M375.3,365.6v9.2M371.4,369.4h9.2M376.0,364.8v9.2M373.2,367.4h9.2M377.8,362.8v9.2M374.4,366.1h9.2M379.0,361.5v9.2M375.5,364.9h9.2M380.1,360.3v9.2M376.6,364.8h9.3M381.3,360.1v9.3M377.8,363.7h9.3M382.4,359.0v9.3M380.0,361.6h9.3M384.7,357.0v9.3M385.5,356.9h9.4M390.2,352.2v9.4M386.3,355.6h9.4M391.1,350.8v9.4M389.7,352.6h9.5M394.4,347.8v9.5M393.9,346.7h9.6M398.7,341.9v9.6M394.8,345.6h9.6M399.5,340.8v9.6M395.6,345.5h9.6M400.4,340.7v9.6M399.0,341.0h9.7M403.8,336.2v9.7M399.8,340.2h9.7M404.6,335.4v9.7M401.5,337.9h9.7M406.3,333.1v9.7M403.6,336.6h9.7M408.5,331.7v9.7M404.9,335.3h9.8M409.8,330.5v9.8M406.1,335.4h9.8M411.0,330.5v9.8M409.9,333.9h9.9M414.8,329.0v9.9M411.2,332.6h9.9M416.1,327.7v9.9M423.6,327.5h10.1M428.7,322.4v10.1M425.5,324.9h10.1M430.6,319.9v10.1M427.5,323.8h10.2M432.6,318.7v10.2M428.4,321.8h10.2M433.5,316.7v10.2M429.4,321.9h10.2M434.5,316.8v10.2M430.3,320.0h10.2M435.4,314.9v10.2M431.2,319.0h10.2M436.4,313.9v10.2M435.9,315.0h10.2M441.0,309.9v10.2M436.8,314.4h10.2M441.9,309.2v10.2M439.6,311.6h10.2M444.7,306.5v10.2M443.4,308.9h10.3M448.5,303.8v10.3M444.7,308.1h10.3M449.8,303.0v10.3M453.2,305.4h10.3M458.3,300.3v10.3M454.8,306.1h10.3M460.0,301.0v10.3M456.0,304.8h10.3M461.1,299.6v10.3M457.1,303.6h10.3M462.3,298.5v10.3M458.2,303.2h10.3M463.4,298.0v10.3M460.5,301.6h10.3M465.6,296.5v10.3M466.1,297.8h10.3M471.3,292.6v10.3M467.1,297.4h10.4M472.3,292.2v10.4M468.1,296.4h10.4M473.3,291.2v10.4M470.1,294.9h10.4M475.3,289.7v10.4M471.1,293.9h10.4M476.3,288.8v10.4M472.1,292.1h10.4M477.3,286.9v10.4M473.1,292.1h10.4M478.2,286.9v10.4M475.0,290.1h10.4M480.2,284.9v10.4M478.0,287.5h10.4M483.2,282.3v10.4M479.0,287.0h10.4M484.2,281.8v10.4M480.2,286.4h10.4M485.4,281.2v10.4M481.4,284.8h10.4M486.6,279.6v10.4M485.1,283.2h10.4M490.3,278.0v10.4M486.3,282.7h10.4M491.6,277.5v10.4M491.3,279.8h10.5M496.5,274.5v10.5M492.6,279.8h10.5M497.8,274.6v10.5M493.8,279.3h10.5M499.1,274.1v10.5M495.1,278.0h10.5M500.3,272.8v10.5M496.4,278.3h10.5M501.6,273.1v10.5M498.9,277.3h10.5M504.1,272.0v10.5M500.2,276.3h10.5M505.4,271.0v10.5M503.9,270.4h10.5M509.1,265.2v10.5M504.6,269.9h10.5M509.9,264.7v10.5M507.6,266.8h10.5M512.9,261.6v10.5M511.1,264.6h10.5M516.3,259.3v10.5M513.3,262.7h10.5M518.6,257.5v10.5M514.5,262.6h10.5M519.8,257.3v10.5M516.6,260.3h10.6M521.9,255.1v10.6M517.7,259.7h10.6M522.9,254.4v10.6M519.7,258.0h10.6M525.0,252.7v10.6M520.7,257.9h10.6M526.0,252.6v10.6M522.8,256.2h10.6M528.0,250.9v10.6M523.8,254.7h10.6M529.1,249.4v10.6M528.4,251.5h10.6M533.6,246.2v10.6M530.9,250.2h10.6M536.2,244.9v10.6M532.2,249.4h10.6M537.5,244.1v10.6M533.5,249.6h10.6M538.8,244.3v10.6M539.4,245.9h10.6M544.7,240.6v10.6M540.5,245.3h10.6M545.8,240.0v10.6M542.8,243.6h10.6M548.1,238.3v10.6M545.1,241.6h10.6M550.4,236.3v10.6M551.6,231.8h10.6M556.9,226.5v10.6M552.3,230.3h10.6M557.6,225.0v10.6M556.8,227.2h10.6M562.1,221.9v10.6M560.7,225.6h10.6M566.0,220.3v10.6M563.2,224.3h10.6M568.5,219.0v10.6M565.5,222.9h10.6M570.8,217.6v10.6M567.9,221.7h10.6M573.2,216.4v10.6M569.0,221.4h10.6M574.3,216.1v10.6M572.5,219.3h10.6M577.8,214.0v10.6M580.9,216.1h10.6M586.2,210.8v10.6M582.1,215.3h10.6M587.4,210.0v10.6M583.4,214.9h10.6M588.7,209.6v10.6M584.6,214.7h10.6M589.9,209.4v10.6M585.5,212.4h10.6M590.8,207.1v10.6M586.3,211.7h10.6M591.6,206.4v10.6M587.1,210.6h10.6M592.4,205.3v10.6M588.0,209.8h10.6M593.3,204.5v10.6M588.9,208.1h10.6M594.1,202.8v10.6M589.7,207.5h10.6M595.0,202.2v10.6M592.2,204.2h10.6M597.5,198.9v10.6M593.1,202.4h10.6M598.4,197.1v10.6M594.0,202.0h10.6M599.3,196.7v10.6M598.4,196.9h10.6M603.7,191.6v10.6M599.3,195.4h10.6M604.6,190.1v10.6M603.9,192.1h10.6M609.2,186.8v10.6M605.2,191.8h10.6M610.5,186.5v10.6M606.4,191.1h10.6M611.7,185.8v10.6M607.6,189.8h10.6M612.9,184.5v10.6M608.9,189.1h10.6M614.2,183.8v10.6M610.1,187.9h10.6M615.4,182.6v10.6M612.4,186.8h10.6M617.7,181.5v10.6M613.5,186.3h10.6M618.8,181.0v10.6M614.6,185.8h10.6M619.9,180.5v10.6M616.9,184.8h10.6M622.2,179.5v10.6M619.1,183.2h10.6M624.4,177.9v10.6M622.3,180.7h10.6M627.6,175.4v10.6M624.1,177.6h10.6M629.4,172.3v10.6M626.7,174.5h10.6M632.0,169.2v10.6M627.6,173.6h10.6M632.9,168.3v10.6M629.6,171.7h10.6M634.9,166.4v10.6M632.9,170.2h10.6M638.2,164.9v10.6M640.9,164.4h10.6M646.2,159.1v10.6M644.6,162.3h10.6M649.9,157.0v10.6M647.0,159.9h10.6M652.3,154.6v10.6M647.7,159.0h10.6M653.0,153.7v10.6M648.4,157.8h10.6M653.7,152.5v10.6M649.1,156.6h10.6M654.4,151.3v10.6M652.0,152.3h10.6M657.3,147.0v10.6M655.5,145.9h10.6M660.8,140.6v10.6M657.6,144.4h10.6M662.9,139.1v10.6M659.8,142.6h10.6M665.0,137.3v10.6M662.9,140.4h10.6M668.2,135.1v10.6M666.0,135.1h10.6M671.3,129.8v10.6M667.4,132.6h10.6M672.7,127.3v10.6M668.1,130.8h10.6M673.4,125.5v10.6M671.9,129.1h10.6M677.1,123.8v10.6M673.1,128.7h10.6M678.4,123.4v10.6M675.6,127.9h10.6M680.9,122.6v10.6M676.9,127.0h10.6M682.1,121.7v10.6M678.1,126.4h10.6M683.4,121.1v10.6M683.1,123.8h10.6M688.4,118.5v10.6M684.4,123.5h10.6M689.7,118.2v10.6M687.7,121.0h10.6M693.0,115.7v10.6M690.2,116.6h10.6M695.5,111.3v10.6M691.1,115.3h10.6M696.4,110.0v10.6M701.9,102.9h10.6M707.2,97.6v10.6M704.5,98.9h10.6M709.8,93.6v10.6M705.4,98.4h10.6M710.7,93.1v10.6M708.0,95.1h10.6M713.3,89.8v10.6M710.6,91.3h10.6M715.9,86.0v10.6M711.5,90.3h10.6M716.8,85.0v10.6M712.4,89.6h10.6M717.6,84.3v10.6M714.1,87.4h10.6M719.4,82.1v10.6M715.7,85.8h10.6M721.0,80.5v10.6M720.9,82.2h10.6M726.2,76.9v10.6M722.1,82.1h10.6M727.4,76.8v10.6M727.0,78.3h10.6M732.3,73.0v10.6M729.5,77.1h10.6M734.8,71.8v10.6M730.8,76.2h10.6M736.0,70.9v10.6M733.2,76.0h10.6M738.5,70.7v10.6M734.5,75.2h10.6M739.8,69.9v10.6M735.7,73.5h10.6M741.0,68.2v10.6" stroke="#ff0000" stroke-width="1.1" fill="none"/>
<path d="M133.3,610.4h8.2M137.4,606.2v8.2M134.1,608.3h8.2M138.2,604.2v8.2M138.2,603.0h8.2M142.3,598.9v8.2M141.4,599.0h8.3M145.6,594.9v8.3M143.1,595.6h8.3M147.2,591.5v8.3M145.9,593.3h8.3M150.1,589.1v8.3M147.8,592.1h8.3M151.9,588.0v8.3M149.7,589.6h8.3M153.8,585.4v8.3M151.6,587.9h8.3M155.8,583.7v8.3M152.5,587.0h8.3M156.7,582.8v8.3M153.5,585.7h8.3M157.7,581.6v8.3M155.1,583.2h8.3M159.3,579.1v8.3M158.6,577.2h8.4M162.8,573.0v8.4M161.9,573.4h8.4M166.1,569.2v8.4M165.7,568.6h8.4M169.9,564.4v8.4M167.3,566.7h8.4M171.5,562.5v8.4M170.6,561.5h8.4M174.8,557.3v8.4M171.4,560.9h8.4M175.6,556.7v8.4M174.6,557.2h8.5M178.9,553.0v8.5M178.1,553.2h8.5M182.4,549.0v8.5M182.4,549.0h8.5M186.7,544.8v8.5M186.0,547.8h8.5M190.2,543.5v8.5M188.1,546.0h8.6M192.3,541.8v8.6M190.9,542.9h8.6M195.2,538.6v8.6M194.6,540.0h8.6M198.9,535.7v8.6M196.5,537.9h8.6M200.8,533.6v8.6" stroke="#dc062e" stroke-width="1.1" fill="none"/>
<path d="M142.3,597.9h8.3M146.4,593.8v8.3M150.6,588.1h8.3M154.8,584.0v8.3M161.0,574.0h8.4M165.1,569.8v8.4M163.8,571.0h8.4M168.0,566.8v8.4M168.1,565.5h8.4M172.3,561.3v8.4M181.2,549.9h8.5M185.5,545.7v8.5M187.1,547.1h8.5M191.4,542.9v8.5M190.9,542.8h8.6M195.2,538.5v8.6" stroke="#ff0000" stroke-width="1.1" fill="none"/>
<path d="M146.1,587.5h9M150.6,583v9M161.5,572.5h9M166,568v9" stroke="#e8102c" stroke-width="1.2" fill="none"/>
<path d="M106,3V642" stroke="#acacac" stroke-width="2" fill="none"/>
<path d="M105,3.5H760" stroke="#acacac" stroke-width="1" fill="none"/>
<path d="M105,641.45H760" stroke="#acacac" stroke-width="1.3" fill="none"/>
<path d="M101,612.5H105.5M101,466.5H105.5M101,319.5H105.5M101,172.5H105.5M101,26.5H105.5M135.5,641.5V647M235.5,641.5V647M334.5,641.5V647M434.5,641.5V647M534.5,641.5V647M633.5,641.5V647M733.5,641.5V647" stroke="#111" stroke-width="1.1" fill="none"/>
<text x="98.2" y="619.9" font-size="21.5" fill="#4d4d4d" text-anchor="end">0.0%</text>
<text x="98.2" y="473.9" font-size="21.5" fill="#4d4d4d" text-anchor="end">10.0%</text>
<text x="98.2" y="326.9" font-size="21.5" fill="#4d4d4d" text-anchor="end">20.0%</text>
<text x="98.2" y="179.9" font-size="21.5" fill="#4d4d4d" text-anchor="end">30.0%</text>
<text x="98.2" y="33.9" font-size="21.5" fill="#4d4d4d" text-anchor="end">40.0%</text>
<text x="135.5" y="665" font-size="21.5" fill="#4d4d4d" text-anchor="middle">0</text>
<text x="235.5" y="665" font-size="21.5" fill="#4d4d4d" text-anchor="middle">6</text>
<text x="334.5" y="665" font-size="21.5" fill="#4d4d4d" text-anchor="middle">12</text>
<text x="434.5" y="665" font-size="21.5" fill="#4d4d4d" text-anchor="middle">18</text>
<text x="534.5" y="665" font-size="21.5" fill="#4d4d4d" text-anchor="middle">24</text>
<text x="633.5" y="665" font-size="21.5" fill="#4d4d4d" text-anchor="middle">30</text>
<text x="733.5" y="665" font-size="21.5" fill="#4d4d4d" text-anchor="middle">36</text>
<text x="434.9" y="690.8" font-size="24.4" fill="#000" text-anchor="middle">Time in months</text>
<text transform="translate(28.8,323.2) rotate(-90)" font-size="24.3" fill="#000" text-anchor="middle">Cumulative event</text>
</svg>
</body></html>
